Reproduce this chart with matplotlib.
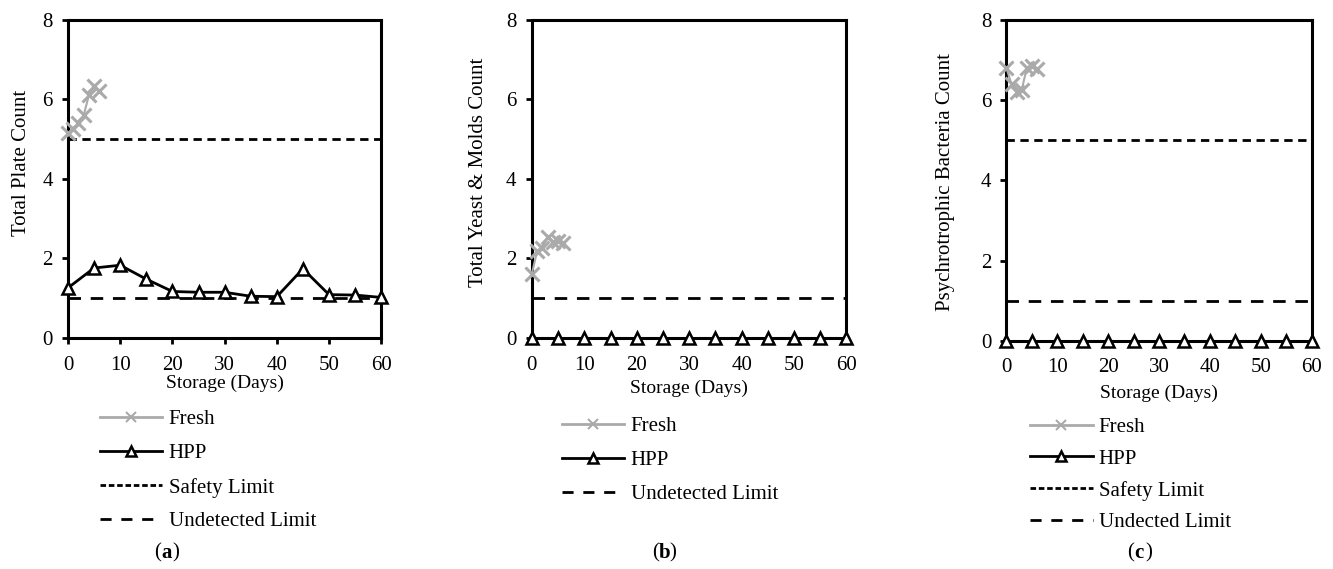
import matplotlib
matplotlib.use("Agg")
import matplotlib.pyplot as plt
from matplotlib.lines import Line2D

plt.rcParams['font.family'] = ['Liberation Serif', 'DejaVu Serif']

# data
fresh_days = [0, 1, 2, 3, 4, 5, 6]
hpp_days = [0, 5, 10, 15, 20, 25, 30, 35, 40, 45, 50, 55, 60]

tpc_fresh = [5.15, 5.25, 5.4, 5.6, 6.1, 6.35, 6.2]
tpc_hpp = [1.26, 1.76, 1.83, 1.48, 1.17, 1.15, 1.15, 1.05, 1.04, 1.74, 1.09, 1.08, 1.02]

ym_fresh = [1.62, 2.18, 2.26, 2.55, 2.42, 2.45, 2.38]
ym_hpp = [0, 0, 0, 0, 0, 0, 0, 0, 0, 0, 0, 0, 0]

psy_fresh = [6.8, 6.4, 6.2, 6.25, 6.8, 6.85, 6.78]
psy_hpp = [0, 0, 0, 0, 0, 0, 0, 0, 0, 0, 0, 0, 0]

safety_limit = 5
undetected_limit = 1

ylabels = ["Total Plate Count", "Total Yeast & Molds Count", "Psychrotrophic Bacteria Count"]
panel_labels = ["a", "b", "c"]
undetected_names = ["Undetected Limit", "Undetected Limit", "Undected Limit"]
has_safety = [True, False, True]

fig = plt.figure(figsize=(13.33, 5.69), dpi=100)

positions = [[0.051, 0.406, 0.235, 0.559],
             [0.399, 0.406, 0.236, 0.559],
             [0.755, 0.401, 0.229, 0.564]]
ylabel_xy = [(-0.118, 0.55), (-0.14, 0.522), (-0.167, 0.495)]
xlabel_pad = [0.3, 4, 5.4]
legend_x = [0.075, 0.4216, 0.7727]
legend_y = [0.280, 0.268, 0.2665]
legend_sp = [0.69, 0.7, 0.58]
label_x = [0.121, 0.494, 0.851]

fresh_all = [tpc_fresh, ym_fresh, psy_fresh]
hpp_all = [tpc_hpp, ym_hpp, psy_hpp]

for i in range(3):
    ax = fig.add_axes(positions[i])
    ax.plot(fresh_days, fresh_all[i], color='#aaaaaa', marker='x', markersize=10,
            markeredgewidth=2.2, linewidth=1.5, clip_on=False, zorder=3)
    ax.plot(hpp_days, hpp_all[i], color='black', marker='^', markersize=9,
            markerfacecolor='white', markeredgewidth=1.8, linewidth=2, clip_on=False, zorder=4)
    if has_safety[i]:
        ax.axhline(safety_limit, color='black', linewidth=2, dashes=(3, 2))
    ax.axhline(undetected_limit, color='black', linewidth=2, dashes=(4.5, 3.5))

    ax.set_xlim(0, 60)
    ax.set_ylim(0, 8)
    ax.set_xticks([0, 10, 20, 30, 40, 50, 60])
    ax.set_yticks([0, 2, 4, 6, 8])
    for s in ax.spines.values():
        s.set_linewidth(2.2)
    ax.tick_params(direction='out', width=2, length=4, labelsize=15)
    ax.tick_params(axis='x', pad=8.7)
    ax.tick_params(axis='y', pad=7)
    ax.set_xlabel("Storage (Days)", fontsize=14, labelpad=xlabel_pad[i])
    ax.set_ylabel(ylabels[i], fontsize=15)
    ax.yaxis.set_label_coords(ylabel_xy[i][0], ylabel_xy[i][1])

    handles = [Line2D([], [], color='#aaaaaa', marker='x', markersize=7, markeredgewidth=1.5, linewidth=2),
               Line2D([], [], color='black', marker='^', markersize=7, markerfacecolor='white',
                      markeredgewidth=1.8, linewidth=2)]
    names = ["Fresh", "HPP"]
    if has_safety[i]:
        handles.append(Line2D([], [], color='black', linewidth=2, dashes=(2, 1)))
        names.append("Safety Limit")
    handles.append(Line2D([], [], color='black', linewidth=2, dashes=(4, 3.5)))
    names.append(undetected_names[i])
    fig.legend(handles, names, loc='upper left', bbox_to_anchor=(legend_x[i], legend_y[i]),
               frameon=False, fontsize=15, handlelength=3.0, handletextpad=0.3,
               labelspacing=legend_sp[i], borderpad=0, borderaxespad=0)

    fig.text(label_x[i], 0.028, "(", fontsize=15, ha='right', va='center')
    fig.text(label_x[i], 0.028, panel_labels[i], fontsize=15, ha='left', va='center', fontweight='bold')
    fig.text(label_x[i] + 0.0085, 0.028, ")", fontsize=15, ha='left', va='center')

fig.savefig("out.png", dpi=100)
